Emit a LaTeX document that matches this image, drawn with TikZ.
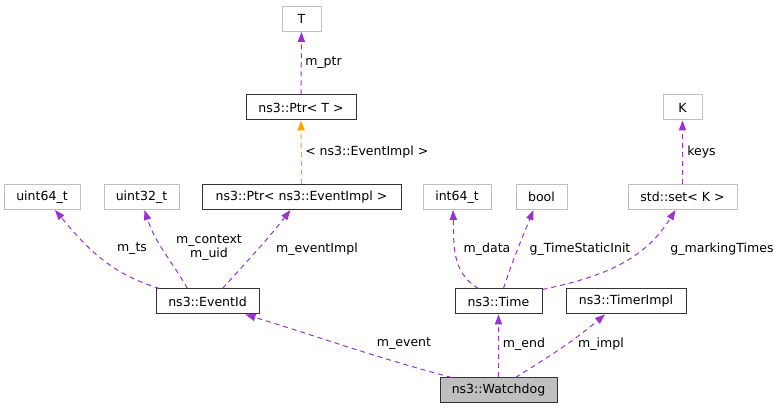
\documentclass[tikz,border=0pt]{standalone}
\usepackage{fontspec}
\usepackage{tikz}
\usetikzlibrary{arrows.meta}
\newfontfamily\doxfont{DejaVu Sans}
\definecolor{dox-purple}{HTML}{9A32CD}
\definecolor{dox-orange}{HTML}{FFA500}
\definecolor{dox-grey}{HTML}{BFBFBF}
\newdimen\px \px=0.75pt
\tikzset{
  dox-class/.style={draw=black!80, fill=white, line width=0.75pt, inner sep=0pt,
    minimum height=25\px, font=\doxfont\fontsize{9.4}{10.5}\selectfont},
  dox-ext/.style={dox-class, draw=dox-grey},
  dox-main/.style={dox-class, fill=dox-grey},
  dox-edge/.style={draw=dox-purple, line width=0.75pt, dash pattern=on 3.75pt off 3pt,
    -{Triangle[length=7.5pt, width=5.5pt]}},
  dox-tmpl/.style={dox-edge, draw=dox-orange},
  dox-label/.style={font=\doxfont\fontsize{9.4}{10.5}\selectfont, inner sep=0pt}
}
\begin{document}
\begin{tikzpicture}[x=0.75pt, y=0.75pt]
  \useasboundingbox (0,0) rectangle (783,-409);

  % Top templates
  \node[dox-ext, minimum width=39\px] (tT) at (301.5,-19) {T};
  \node[dox-class, minimum width=110\px] (ptrT) at (301,-107.5) {ns3::Ptr< T >};
  \node[dox-ext, minimum width=39\px] (keyK) at (682.5,-107.5) {K};

  % Member types
  \node[dox-ext, minimum width=76\px] (uint64) at (42,-197) {uint64\_t};
  \node[dox-ext, minimum width=75\px] (uint32) at (141.5,-197) {uint32\_t};
  \node[dox-class, minimum width=199\px] (ptrEvent) at (301.5,-197) {ns3::Ptr< ns3::EventImpl >};
  \node[dox-ext, minimum width=68\px] (int64) at (457,-197) {int64\_t};
  \node[dox-ext, minimum width=51\px] (boolT) at (541.5,-197) {bool};
  \node[dox-ext, minimum width=109\px] (setK) at (682.5,-197) {std::set< K >};

  % Classes used by the watchdog
  \node[dox-class, minimum width=103\px] (eventId) at (207.5,-301.5) {ns3::EventId};
  \node[dox-class, minimum width=87\px] (timeN) at (498.5,-301.5) {ns3::Time};
  \node[dox-class, minimum width=120\px] (timerImpl) at (626,-301.5) {ns3::TimerImpl};
  \node[dox-main, minimum width=117\px] (watchdog) at (498.5,-390.5) {ns3::Watchdog};

  % Template edges
  \draw[dox-edge] (ptrT) -- (tT);
  \node[dox-label, anchor=west] at (305,-63) {m\_ptr};
  \draw[dox-tmpl] (ptrEvent) -- (ptrT);
  \node[dox-label, anchor=west] at (305,-152) {< ns3::EventImpl >};
  \draw[dox-edge] (setK) -- (keyK);
  \node[dox-label, anchor=west] at (687,-152) {keys};

  % EventId members
  \draw[dox-edge] ([xshift=4\px]eventId.north west) to[out=163, in=-50] ([xshift=13\px]uint64.south);
  \node[dox-label] at (132,-249) {m\_ts};
  \draw[dox-edge] ([xshift=32\px]eventId.north west) to[out=120, in=-72] ([xshift=3\px]uint32.south);
  \node[dox-label, align=center] at (209,-248) {m\_context\\m\_uid};
  \draw[dox-edge] ([xshift=15\px]eventId.north) to[out=48, in=-128] ([xshift=-11\px]ptrEvent.south);
  \node[dox-label] at (317,-249) {m\_eventImpl};

  % Time members
  \draw[dox-edge] ([xshift=-20\px]timeN.north) to[out=150, in=-88] ([xshift=-4\px]int64.south);
  \node[dox-label] at (487,-249) {m\_data};
  \draw[dox-edge] ([xshift=5\px]timeN.north) to[out=72, in=-112] ([xshift=-8\px]boolT.south);
  \node[dox-label] at (580,-249) {g\_TimeStaticInit};
  \draw[dox-edge] ([yshift=-1\px]timeN.north east) to[out=12, in=-122] ([xshift=-7\px]setK.south);
  \node[dox-label] at (722,-249) {g\_markingTimes};

  % Watchdog members
  \draw[dox-edge] ([xshift=12\px]watchdog.north west) to[out=165, in=-17] ([xshift=-14\px]eventId.south east);
  \node[dox-label] at (404,-344) {m\_event};
  \draw[dox-edge] (watchdog) -- (timeN);
  \node[dox-label] at (524,-344) {m\_end};
  \draw[dox-edge] ([xshift=17\px]watchdog.north) to[out=32, in=-140] ([xshift=-21\px]timerImpl.south);
  \node[dox-label] at (601,-344) {m\_impl};
\end{tikzpicture}
\end{document}
